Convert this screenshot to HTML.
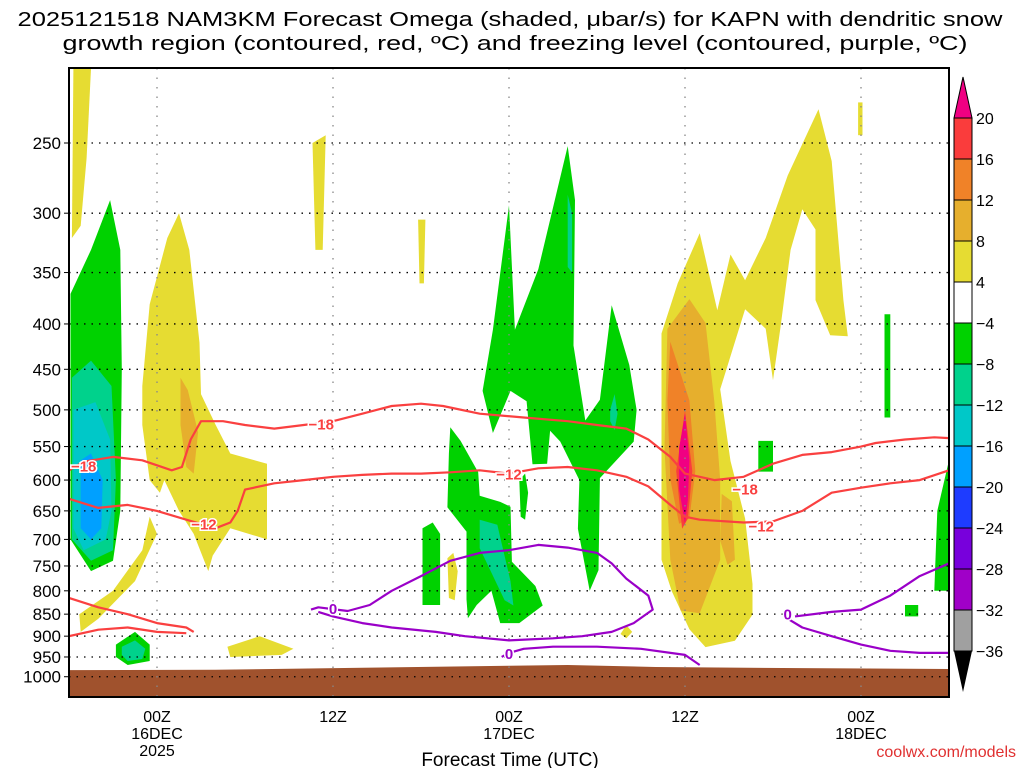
<!DOCTYPE html>
<html><head><meta charset="utf-8"><style>
html,body{margin:0;padding:0;background:#fff;}
svg{display:block;font-family:"Liberation Sans",sans-serif;}
</style></head><body>
<svg id="c" width="1024" height="768" viewBox="0 0 1024 768">
<defs><clipPath id="pc"><rect x="69" y="68" width="880" height="629"/></clipPath></defs>
<g id="shade" clip-path="url(#pc)"></g>
<g id="ground" clip-path="url(#pc)"></g>
<g id="grid"></g>
<g id="cont" clip-path="url(#pc)"></g>
<rect x="69" y="68" width="880" height="629" fill="none" stroke="#000" stroke-width="2"/>
<g id="axes"></g>
<g id="cbar"></g>
<text x="510" y="26" text-anchor="middle" font-size="20" textLength="985" lengthAdjust="spacingAndGlyphs">2025121518 NAM3KM Forecast Omega (shaded, μbar/s) for KAPN with dendritic snow</text>
<text x="515" y="50" text-anchor="middle" font-size="20" textLength="905" lengthAdjust="spacingAndGlyphs">growth region (contoured, red, ºC) and freezing level (contoured, purple, ºC)</text>
<text x="510" y="766" text-anchor="middle" font-size="19">Forecast Time (UTC)</text>
<text x="1016" y="757" text-anchor="end" font-size="16" fill="#e03030">coolwx.com/models</text>
</svg>
<script>
const pressureTicks=[250,300,350,400,450,500,550,600,650,700,750,800,850,900,950,1000];
const timeTickHours=[6,18,30,42,54];
const timeTickLabels=[["00Z","16DEC","2025"],["12Z"],["00Z","17DEC"],["12Z"],["00Z","18DEC"]];
const cbarLabels=["20","16","12","8","4","−4","−8","−12","−16","−20","−24","−28","−32","−36"];
const cbarColors=["#fa3c3c","#f08228","#e6af2d","#e6dc32","#ffffff","#00d200","#00d28c","#00c8c8","#00a0ff","#1e3cff","#7800dc","#a000c8","#a0a0a0"];
const shadeColors={y:"#e6dc32",g:"#e6af2d",o:"#f08228",r:"#fa3c3c",p:"#f00082",G:"#00d200",T:"#00d28c",C:"#00c8c8",B:"#00a0ff"};
const blobColors=["y","y","G","T","C","B","y","g","y","G","T","y","y","y",
"G","T","T","G","T","G","G","y","y",
"y","g","g","o","r","p","G","G","G","G"];
const blobs=[
[[0.3,206],[1.5,206],[1.2,260],[0.8,310],[0.2,320]],
[[5,470],[5.5,380],[6.7,320],[7.5,300],[8.2,330],[8.9,420],[9,480],[10,520],[11,560],[13.5,575],[13.5,700],[11,680],[9.8,730],[9.5,760],[8.5,690],[7.5,650],[6.5,600],[6.2,620],[5.5,600],[5,520]],
[[0.1,370],[1.5,330],[2.8,290],[3.5,330],[3.6,450],[3.5,650],[3,740],[1.5,760],[0.1,700]],
[[0.2,460],[1.5,440],[2.9,470],[3.2,600],[3,720],[1.5,740],[0.2,700]],
[[0.3,500],[1.8,490],[2.8,540],[2.9,650],[2.5,700],[1,720],[0.3,680]],
[[0.8,570],[1.5,560],[2.3,600],[2.2,680],[1.5,700],[0.8,680]],
[[0.7,850],[3,800],[5,720],[5.5,660],[6,690],[4.5,780],[2,860],[0.8,890]],
[[7.6,460],[8.1,475],[8.8,530],[8.5,590],[8,580],[7.6,520]],
[[10.8,925],[13,900],[15.3,930],[14.5,945],[11,950]],
[[3.2,920],[4.5,890],[5.5,920],[5.5,960],[4,970],[3.2,950]],
[[3.6,925],[4.5,910],[5.2,930],[5,955],[4,960],[3.6,945]],
[[16.6,250],[17.5,245],[17.3,330],[16.8,330]],
[[23.8,305],[24.3,305],[24.2,360],[23.9,360]],
[[53.8,225],[54.1,225],[54.1,245],[53.8,245]],
[[28.9,406],[30,294],[30.4,406],[32,347],[34,252],[34.5,290],[34.4,423],[35.2,514],[36.2,487],[37,381],[38.2,445],[38.7,500],[38.5,543],[36.2,597],[36.1,758],[35.5,800],[34.7,681],[34.8,600],[33.5,543],[32.8,528],[32.6,575],[31.6,576],[31.2,489],[30.1,476],[28.9,531],[28.2,476]],
[[34,286],[34.3,300],[34.3,350],[34,345]],
[[36.9,500],[37.2,480],[37.4,505],[37.2,527],[36.9,515]],
[[26,523],[26.7,542],[27.9,588],[28,625],[29.4,635],[30.1,643],[30.2,742],[31.8,790],[32.3,831],[30.7,870],[29.4,870],[28.8,800],[27.8,830],[27.2,859],[27.1,818],[27.1,686],[25.8,644],[25.9,560]],
[[28,665],[29.2,674],[30.1,780],[30.3,831],[29.7,820],[28,716]],
[[30.7,600],[31.1,590],[31.3,620],[31.1,665],[30.8,660]],
[[24.1,680],[24.8,670],[25.3,690],[25.3,830],[24.1,830]],
[[25.8,735],[26.2,725],[26.5,760],[26.3,820],[25.9,815]],
[[37.6,895],[38,875],[38.4,890],[38,905]],
[[40.4,738],[40.4,410],[41.5,360],[43,316],[44.2,386],[45.1,334],[46.1,357],[47.5,320],[49,272],[51.1,229],[52,262],[52.8,376],[53.1,413],[51.9,412],[50.9,376],[50.9,313],[50,297],[49.2,330],[48.5,405],[48,463],[47.5,405],[46.1,385],[44.4,474],[45.1,571],[46.1,663],[46.6,786],[46.6,851],[45.4,911],[43.4,926],[42.3,884],[41.1,801]],
[[40.8,405],[42.3,375],[43.4,399],[44,489],[44.4,600],[44.4,738],[43,848],[41.7,842],[41,738],[40.6,553]],
[[44.5,622],[45.2,634],[45.4,738],[44.9,748],[44.4,702]],
[[41,419],[42.3,488],[42.7,586],[42.3,663],[41.6,672],[41,599],[40.8,488]],
[[42,501],[42.5,586],[42.2,663],[41.8,681],[41.4,586]],
[[42,505],[42.3,570],[42.2,631],[42,672],[41.6,614],[41.6,552]],
[[47,542],[48,542],[48,587],[47,587]],
[[55.6,390],[56,390],[56,510],[55.6,510]],
[[57,830],[57.9,830],[57.9,855],[57,855]],
[[59,800],[59.2,650],[60,570],[60,800]]
];
const groundHours=[0,10,20,30,34,40,50,60];
const groundPres=[983,982,977,972,970,975,978,980];
const dgz18=[[0,585],[1,572],[3,565],[5,570],[7,585],[7.7,580],[8.3,540],[9,515],[10.5,515],[12,520],[14,525],[16,520],[18,515],[20,505],[22,495],[24,492],[25.5,495],[28,505],[31,510],[34,515],[36,520],[38,525],[39.5,540],[41,565],[42,590],[44,600],[46,595],[48,575],[50,562],[52,558],[54,550],[55,545],[57,540],[59,537],[60,538]];
const dgz12=[[0,630],[2,645],[4,640],[6,650],[8,665],[10,680],[11,670],[11.5,650],[12,615],[14,605],[16,600],[18,595],[20,592],[22,590],[24,590],[26,588],[28,585],[30,590],[32,582],[34,580],[36,585],[38,595],[39.5,610],[41,640],[42,660],[43,665],[46,670],[48,668],[50,650],[52,620],[54,612],[56,605],[58,600],[60,585]];
const dgzLow1=[[0,815],[2,835],[4,850],[6,870],[8,880],[8.5,890]];
const dgzLow2=[[0,900],[2,885],[4,880],[6,890],[8,893]];
const frz1=[[16.5,840],[17,835],[19,843],[20.5,830],[22,800],[24,770],[26,740],[28,725],[30,720],[32,710],[34,715],[36,725],[37,745],[38,775],[39.5,810],[39.8,840],[38.5,870],[37,890],[35,900],[33,905],[30,910],[27,900],[25,890],[22,880],[20,870],[18,855],[17,845]];
const frz2=[[29.5,950],[30,940],[31,930],[33,925],[36,925],[39,930],[42,945],[43,970]];
const frz3=[[49,860],[50,880],[52,900],[54,920],[56,935],[58,940],[60,940]];
const frz4=[[49.5,855],[52,845],[54,840],[56,810],[58,770],[60,745]];
const labels18=[[1,578],[17.2,518],[46.1,613]];
const labels12=[[9.2,672],[30,590],[47.2,675]];
const labels0=[[18,837],[30,940],[49,849]];

const NS="http://www.w3.org/2000/svg";
const X=h=>69+h*880/60;
const Y=p=>143+385*Math.log(p/250);
function mk(t,a,parent){const e=document.createElementNS(NS,t);for(const k in a)e.setAttribute(k,a[k]);document.getElementById(parent).appendChild(e);return e;}
function pts(a){return a.map(q=>X(q[0]).toFixed(1)+","+Y(q[1]).toFixed(1)).join(" ");}
function pathD(a){let d="M"+X(a[0][0])+","+Y(a[0][1]);for(let i=1;i<a.length;i++)d+=" L"+X(a[i][0]).toFixed(1)+","+Y(a[i][1]).toFixed(1);return d;}

blobs.forEach((b,i)=>{const e=mk("polygon",{points:pts(b),fill:shadeColors[blobColors[i]],"stroke-linejoin":"round"},"shade");

});

let gd="M69,697";groundHours.forEach((h,i)=>gd+=" L"+X(h)+","+Y(groundPres[i]));gd+=" L949,697 Z";
const gEl=mk("path",{d:gd,fill:"#a0522d"},"ground");



pressureTicks.forEach(p=>{const y=Y(p);
const l=mk("line",{x1:69,x2:949,y1:y,y2:y,stroke:"#000","stroke-width":1.3,"stroke-dasharray":"1.5 6"},"grid");


const t=mk("text",{x:61,y:y+6,"text-anchor":"end","font-size":17},"axes");t.textContent=p;


const tk=mk("line",{x1:64,x2:69,y1:y,y2:y,stroke:"#000"},"axes");

});
timeTickHours.forEach((h,i)=>{const x=X(h);
const l=mk("line",{x1:x,x2:x,y1:68,y2:697,stroke:"#888","stroke-width":1.3,"stroke-dasharray":"1.5 8"},"grid");


timeTickLabels[i].forEach((s,j)=>{const t=mk("text",{x:x,y:722+j*17,"text-anchor":"middle","font-size":16},"axes");t.textContent=s;

});});

function drawLine(a,col,name){const e=mk("path",{d:pathD(a),fill:"none",stroke:col,"stroke-width":2.2,"stroke-linejoin":"round"},"cont");

}
drawLine(dgz18,"#fa4040","contour-minus18");
drawLine(dgz12,"#fa4040","contour-minus12");
drawLine(dgzLow1,"#fa4040","contour-low-1");
drawLine(dgzLow2,"#fa4040","contour-low-2");
drawLine(frz1,"#9a00c8","freezing-level-1");
drawLine(frz2,"#9a00c8","freezing-level-2");
drawLine(frz3,"#9a00c8","freezing-level-3");
drawLine(frz4,"#9a00c8","freezing-level-4");
function lab(list,s,col){list.forEach(q=>{const x=X(q[0]),y=Y(q[1]);
const t=mk("text",{x:x,y:y+6,"text-anchor":"middle","font-size":15,"font-weight":"bold",fill:col,stroke:"#fff","stroke-width":3,"paint-order":"stroke"},"cont");t.textContent=s;

});}
lab(labels18,"−18","#fa4040");lab(labels12,"−12","#fa4040");lab(labels0,"0","#9a00c8");

const by=118,bh=41;
const topArrow=mk("polygon",{points:`954,${by} 972,${by} 963,77`,fill:"#f00082",stroke:"#000"},"cbar");


cbarColors.forEach((c,i)=>{const r=mk("rect",{x:954,y:by+i*bh,width:18,height:bh,fill:c,stroke:"#000"},"cbar");

});
const botArrow=mk("polygon",{points:`954,${by+13*bh} 972,${by+13*bh} 963,692`,fill:"#000"},"cbar");


cbarLabels.forEach((s,i)=>{const t=mk("text",{x:976,y:by+i*bh+6,"font-size":16},"cbar");t.textContent=s;

});
</script>
</body></html>
